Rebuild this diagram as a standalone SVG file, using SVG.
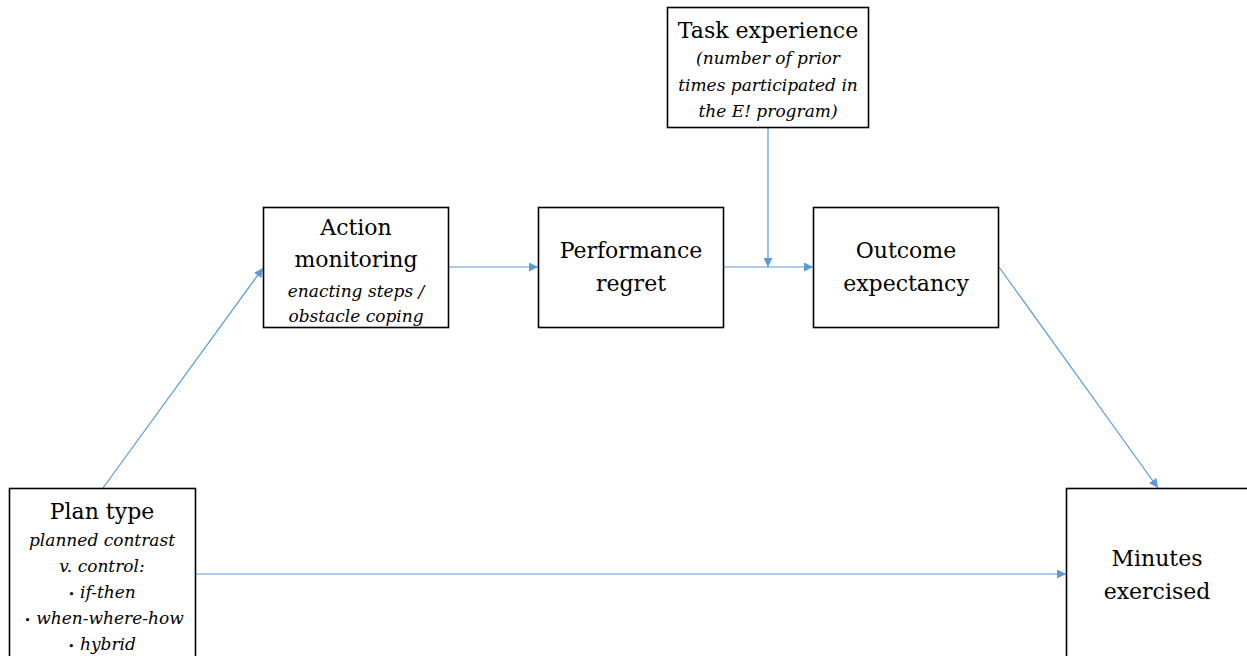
<svg xmlns="http://www.w3.org/2000/svg" width="1247" height="656" viewBox="0 0 1247 656">
  <style>
    .box { fill: #ffffff; stroke: #000000; stroke-width: 1.6; }
    text { font-family: 'DejaVu Serif', 'Liberation Serif', serif; fill: #000000; text-anchor: middle; }
    .title { font-size: 22px; }
    .sub { font-size: 17px; font-style: italic; }
    .bul { font-size: 11px; font-style: normal; }
    .link { fill: none; stroke: #5B9BD5; stroke-width: 1.2; }
  </style>
  <defs>
    <marker id="arrow" viewBox="0 0 10 10" refX="10" refY="5" markerWidth="10" markerHeight="9" markerUnits="userSpaceOnUse" orient="auto">
      <path d="M0,0 L10,5 L0,10 Z" fill="#5B9BD5"/>
    </marker>
  </defs>

  <rect width="1247" height="656" fill="#ffffff"/>

  <!-- connectors -->
  <g id="connectors">
    <line class="link" x1="103" y1="488" x2="263" y2="268" marker-end="url(#arrow)"/>
    <line class="link" x1="449" y1="267" x2="538" y2="267" marker-end="url(#arrow)"/>
    <line class="link" x1="723" y1="267" x2="813" y2="267" marker-end="url(#arrow)"/>
    <line class="link" x1="768" y1="128" x2="768" y2="267" marker-end="url(#arrow)"/>
    <line class="link" x1="999" y1="267" x2="1158" y2="488" marker-end="url(#arrow)"/>
    <line class="link" x1="196" y1="574" x2="1066" y2="574" marker-end="url(#arrow)"/>
  </g>

  <!-- Plan type -->
  <g id="plan-type">
    <rect class="box" x="9.5" y="488.5" width="186" height="180"/>
    <text class="title" x="102" y="519">Plan type</text>
    <text class="sub" x="102" y="546">planned contrast</text>
    <text class="sub" x="102" y="572">v. control:</text>
    <text class="sub" x="102" y="598"><tspan class="bul">•</tspan> if-then</text>
    <text class="sub" x="104" y="624"><tspan class="bul">•</tspan> when-where-how</text>
    <text class="sub" x="102" y="650"><tspan class="bul">•</tspan> hybrid</text>
  </g>

  <!-- Action monitoring -->
  <g id="action-monitoring">
    <rect class="box" x="263.5" y="207.5" width="185" height="120"/>
    <text class="title" x="356" y="235">Action</text>
    <text class="title" x="356" y="267">monitoring</text>
    <text class="sub" x="356" y="297">enacting steps /</text>
    <text class="sub" x="356" y="322">obstacle coping</text>
  </g>

  <!-- Performance regret -->
  <g id="performance-regret">
    <rect class="box" x="538.5" y="207.5" width="185" height="120"/>
    <text class="title" x="631" y="258">Performance</text>
    <text class="title" x="631" y="291">regret</text>
  </g>

  <!-- Outcome expectancy -->
  <g id="outcome-expectancy">
    <rect class="box" x="813.5" y="207.5" width="185" height="120"/>
    <text class="title" x="906" y="258">Outcome</text>
    <text class="title" x="906" y="291">expectancy</text>
  </g>

  <!-- Task experience -->
  <g id="task-experience">
    <rect class="box" x="667.5" y="7.5" width="201" height="120"/>
    <text class="title" x="768" y="38">Task experience</text>
    <text class="sub" x="768" y="64">(number of prior</text>
    <text class="sub" x="768" y="91">times participated in</text>
    <text class="sub" x="768" y="117">the E! program)</text>
  </g>

  <!-- Minutes exercised -->
  <g id="minutes-exercised">
    <rect class="box" x="1066.5" y="488.5" width="200" height="180"/>
    <text class="title" x="1157" y="566">Minutes</text>
    <text class="title" x="1157" y="599">exercised</text>
  </g>
</svg>
